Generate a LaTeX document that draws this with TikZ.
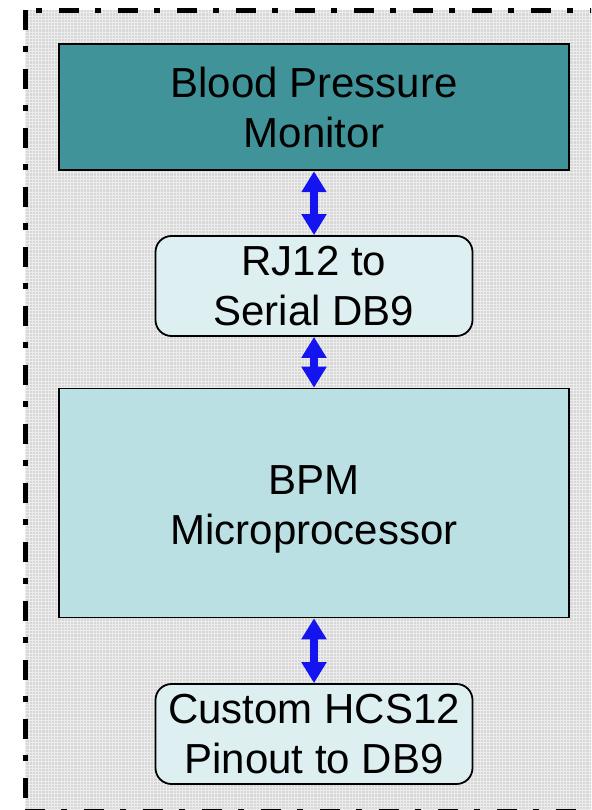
\documentclass[tikz,border=0pt]{standalone}
\usepackage{fontspec}
\setmainfont{Liberation Sans}
\usetikzlibrary{arrows.meta}

\definecolor{tealbox}{RGB}{64,147,153}
\definecolor{lightbox}{RGB}{221,239,240}
\definecolor{midbox}{RGB}{187,224,227}
\definecolor{panel}{RGB}{215,215,215}
\definecolor{linkblue}{RGB}{20,20,240}

\tikzset{
  boxtext/.style={font=\fontsize{42}{50}\selectfont, align=center, inner sep=0pt, text=black},
  squarebox/.style={boxtext, draw=black},
  roundbox/.style={boxtext, draw=black, fill=lightbox, rounded corners=16pt, line width=1.8pt,
    minimum width=317pt, minimum height=100pt},
  biarrow/.style={draw=linkblue, line width=8pt,
    {Triangle[width=24pt,length=21pt]}-{Triangle[width=24pt,length=21pt]}},
  framedash/.style={line width=5pt, dash pattern=on 20pt off 16pt on 6pt off 17pt}
}

\begin{document}
\begin{tikzpicture}[x=1pt,y=-1pt]
  \useasboundingbox (0,0) rectangle (591,810);
  \begin{scope}
    \clip (0,0) rectangle (591,810);
    % textured grey panel
    \fill[panel] (25,10.5) rectangle (600,815);
    \draw[white, line width=0.6pt, opacity=0.55, step=3.2pt] (25,10.5) grid (600,815);
    % dash-dot frame (left, top, bottom edges)
    \draw[framedash] (25,10.5) -- (25,815);
    \draw[framedash, dash phase=25pt] (25,10.5) -- (600,10.5);
    \draw[framedash] (25,811) -- (600,811);
  \end{scope}

  % blocks
  \node[squarebox, fill=tealbox, line width=2.5pt, minimum width=510pt, minimum height=126pt]
    (bpm) at (314,107) {Blood Pressure\\Monitor};
  \node[roundbox] (rj) at (314,286) {RJ12 to\\Serial DB9};
  \node[squarebox, fill=midbox, line width=1.6pt, minimum width=510pt, minimum height=229pt]
    (cpu) at (314,503) {};
  \node[boxtext] (cpulabel) at (314,509) {BPM\\Microprocessor};
  \node[roundbox] (hcs) at (314,734) {Custom HCS12\\Pinout to DB9};

  % links
  \draw[biarrow] (bpm.south) -- (rj.north);
  \draw[biarrow] (rj.south) -- (cpu.north);
  \draw[biarrow] (cpu.south) -- (hcs.north);
\end{tikzpicture}
\end{document}
